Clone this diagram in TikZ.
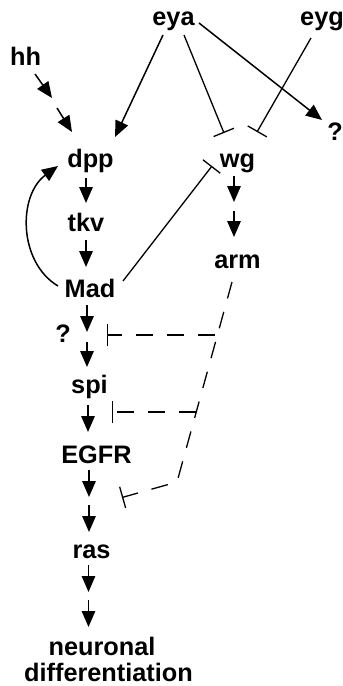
\documentclass[tikz,border=0pt]{standalone}
\usepackage{fontspec}
\setmainfont{Liberation Sans}
\usetikzlibrary{arrows.meta}
\begin{document}
\begin{tikzpicture}[x=1pt,y=-1pt,
  lab/.style={font=\fontsize{25.3}{28}\selectfont\bfseries, inner sep=0pt, anchor=base},
  act/.style={line width=1.5pt, -{Triangle[length=16pt,width=13.5pt]}},
  inh/.style={line width=1.3pt, -{Bar[width=22pt,line width=1.3pt]}},
  dsh/.style={line width=1.3pt, dash pattern=on 17pt off 14pt}]
\useasboundingbox (0,0) rectangle (343,686);
% nodes
\node[lab] (eya) at (173.5,25) {eya};
\node[lab] (eyg) at (322,25) {eyg};
\node[lab] (hh) at (25.5,65) {hh};
\node[lab] (qr) at (335,140) {?};
\node[lab] (dpp) at (90.5,167) {dpp};
\node[lab] (wg) at (237.5,167) {wg};
\node[lab] (tkv) at (86,231) {tkv};
\node[lab] (arm) at (237.5,268) {arm};
\node[lab] (Mad) at (90,297) {Mad};
\node[lab] (ql) at (63,342) {?};
\node[lab] (spi) at (89.5,393) {spi};
\node[lab] (EGFR) at (96.5,463) {EGFR};
\node[lab] (ras) at (91.5,558) {ras};
\node[lab] (neur) at (102,655) {neuronal};
\node[lab] (diff) at (108.5,681) {differentiation};
% connector end points
\coordinate (hh1) at (35,74);   \coordinate (hh2) at (52,98);
\coordinate (hh3) at (57,108);  \coordinate (hh4) at (72,132);
\coordinate (eyaA) at (163,35); \coordinate (dppA) at (115,137);
\coordinate (eyaB) at (184,35); \coordinate (wgB) at (224,133);
\coordinate (eygA) at (311,38); \coordinate (wgC) at (257,132);
\coordinate (eyaC) at (199,23); \coordinate (qrA) at (322,120);
\coordinate (dppB) at (86,178); \coordinate (tkvA) at (86,203);
\coordinate (tkvB) at (86,240); \coordinate (MadA) at (86,267);
\coordinate (MadB) at (58,286); \coordinate (dppC) at (58,166);
\coordinate (MadC) at (123,281); \coordinate (wgD) at (212,166);
\coordinate (wg1) at (234,176); \coordinate (wg2) at (234,202);
\coordinate (wg3) at (234,211); \coordinate (arm1) at (234,237);
\coordinate (Mad1) at (87,305); \coordinate (Mad2) at (87,332);
\coordinate (ql1) at (87,342);  \coordinate (spiA) at (87,367);
\coordinate (spiB) at (88,405); \coordinate (EGFRA) at (88,432);
\coordinate (EGFR1) at (89,470); \coordinate (EGFR2) at (89,497);
\coordinate (EGFR3) at (89,505); \coordinate (rasA) at (89,532);
\coordinate (ras1) at (88.5,565); \coordinate (ras2) at (88.5,592);
\coordinate (ras3) at (88.5,600); \coordinate (neurA) at (88.5,627);
\coordinate (armA) at (232,282); \coordinate (corner) at (177,482);
\coordinate (rasB) at (122,497.5);
\coordinate (j1) at (215,335); \coordinate (qlB) at (107,335);
\coordinate (j2) at (196,412); \coordinate (spiC) at (112,412);
% activation arrows
\draw[act] (hh1) -- (hh2);
\draw[act] (hh3) -- (hh4);
\draw[act] (eyaA) -- (dppA);
\draw[act] (eyaC) -- (qrA);
\draw[act] (dppB) -- (tkvA);
\draw[act] (tkvB) -- (MadA);
\draw[act] (MadB) .. controls (18,262) and (18,195) .. (dppC);
\draw[act] (wg1) -- (wg2);
\draw[act] (wg3) -- (arm1);
\draw[act] (Mad1) -- (Mad2);
\draw[act] (ql1) -- (spiA);
\draw[act] (spiB) -- (EGFRA);
\draw[act] (EGFR1) -- (EGFR2);
\draw[act] (EGFR3) -- (rasA);
\draw[act] (ras1) -- (ras2);
\draw[act] (ras3) -- (neurA);
% inhibition
\draw[inh] (eyaB) -- (wgB);
\draw[inh] (eygA) -- (wgC);
\draw[inh] (MadC) -- (wgD);
% dashed inhibition from arm
\draw[dsh, -{Bar[width=22pt,line width=1.3pt]}] (armA) -- (corner) -- (rasB);
\draw[dsh, -{Bar[width=22pt,line width=1.3pt]}] (j1) -- (qlB);
\draw[dsh, -{Bar[width=22pt,line width=1.3pt]}] (j2) -- (spiC);
\end{tikzpicture}
\end{document}
